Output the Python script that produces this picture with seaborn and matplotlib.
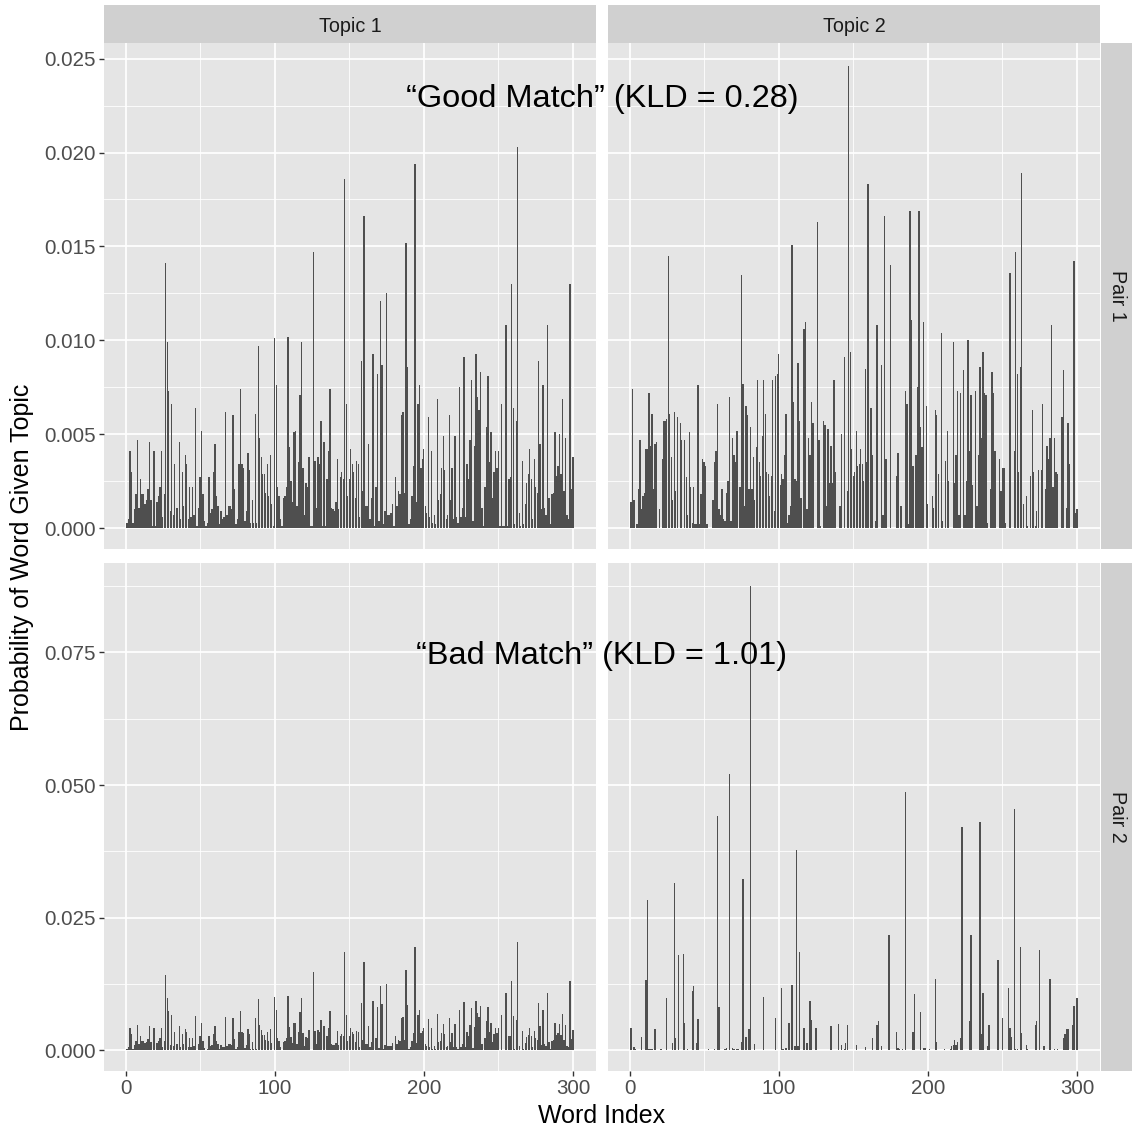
import numpy as np
import pandas as pd
import matplotlib
matplotlib.use("Agg")
import matplotlib.pyplot as plt
import seaborn as sns
from matplotlib.patches import Rectangle
from matplotlib.ticker import FixedLocator

plt.rcParams['font.family'] = ['Liberation Sans', 'DejaVu Sans']

# ---------------- data (probabilities in units of 1e-4) ----------------
SCALE = 1e-4
word_index = list(range(1, 301))

topic1 = [
    3, 5, 41, 30, 3, 10, 18, 47, 11, 26,
    18, 18, 13, 15, 21, 46, 15, 1, 41, 1,
    14, 17, 22, 41, 6, 18, 141, 99, 73, 9,
    66, 7, 34, 11, 11, 46, 5, 30, 12, 39,
    34, 5, 22, 6, 22, 7, 64, 1, 11, 27,
    52, 18, 4, 1, 3, 27, 8, 10, 30, 45,
    17, 12, 2, 9, 5, 6, 62, 7, 12, 12,
    10, 60, 21, 2, 5, 34, 74, 34, 32, 4,
    9, 40, 31, 3, 15, 3, 61, 3, 97, 48,
    38, 29, 29, 19, 34, 17, 39, 13, 1, 101,
    76, 22, 17, 5, 1, 16, 17, 22, 102, 43,
    25, 14, 51, 52, 12, 35, 71, 99, 32, 7,
    24, 22, 38, 1, 1, 147, 36, 11, 38, 34,
    57, 1, 46, 1, 26, 41, 74, 11, 10, 9,
    14, 37, 10, 27, 30, 26, 186, 66, 17, 26,
    42, 34, 30, 16, 36, 34, 6, 89, 20, 166,
    12, 12, 45, 5, 16, 93, 1, 22, 82, 4,
    121, 87, 2, 9, 125, 7, 7, 8, 13, 1,
    27, 12, 20, 18, 60, 62, 19, 152, 86, 2,
    5, 17, 33, 194, 14, 66, 76, 32, 37, 42,
    12, 8, 59, 6, 41, 3, 7, 2, 69, 15,
    18, 32, 49, 31, 5, 7, 60, 15, 32, 5,
    49, 6, 3, 75, 6, 11, 91, 6, 34, 26,
    47, 79, 4, 44, 93, 70, 63, 83, 11, 1,
    22, 54, 81, 35, 51, 16, 30, 41, 32, 41,
    1, 66, 1, 1, 108, 1, 26, 27, 130, 64,
    2, 57, 203, 8, 1, 36, 2, 13, 24, 29,
    42, 26, 5, 37, 22, 19, 89, 45, 10, 76,
    11, 7, 108, 16, 2, 18, 19, 51, 28, 33,
    50, 29, 69, 20, 48, 7, 5, 130, 21, 38]

pair1_topic2 = [
    14, 74, 15, 0, 2, 21, 47, 10, 17, 19,
    42, 42, 72, 44, 61, 21, 45, 46, 0, 10,
    0, 37, 57, 57, 58, 145, 61, 38, 15, 62,
    20, 59, 0, 56, 47, 0, 47, 27, 7, 51,
    22, 3, 22, 2, 2, 76, 2, 18, 37, 35,
    33, 2, 0, 0, 0, 15, 35, 41, 66, 10,
    7, 21, 5, 4, 19, 25, 70, 4, 48, 39,
    35, 52, 0, 22, 135, 77, 12, 65, 60, 21,
    54, 21, 38, 15, 43, 79, 35, 28, 49, 79,
    61, 30, 29, 17, 28, 79, 9, 81, 82, 93,
    23, 29, 26, 39, 61, 3, 7, 12, 151, 67,
    26, 25, 88, 57, 16, 0, 106, 110, 10, 48,
    39, 67, 56, 0, 0, 163, 47, 1, 0, 57,
    55, 12, 53, 24, 44, 24, 79, 30, 0, 0,
    12, 50, 0, 91, 0, 20, 246, 94, 42, 28,
    30, 52, 33, 34, 42, 34, 25, 85, 35, 183,
    0, 64, 39, 0, 4, 108, 0, 0, 87, 7,
    166, 37, 0, 0, 140, 0, 0, 0, 28, 40,
    0, 12, 0, 0, 73, 66, 2, 169, 111, 33,
    0, 39, 75, 169, 54, 43, 110, 0, 65, 13,
    0, 0, 17, 11, 63, 60, 29, 0, 104, 4,
    0, 36, 52, 25, 0, 0, 99, 24, 39, 73,
    7, 72, 0, 84, 7, 25, 100, 41, 71, 23,
    0, 73, 12, 39, 86, 48, 94, 72, 71, 3,
    0, 21, 83, 72, 41, 0, 0, 37, 20, 32,
    32, 3, 0, 0, 136, 0, 0, 41, 147, 82,
    30, 86, 189, 13, 0, 17, 1, 0, 28, 63,
    30, 1, 9, 31, 0, 31, 66, 0, 21, 44,
    37, 48, 108, 22, 48, 30, 29, 0, 0, 59,
    84, 0, 11, 56, 34, 0, 0, 142, 8, 10]

# Pair 2, Topic 2: non-zero words only (all other words have probability 0)
pair2_topic2_words = [
    1, 3, 4, 8, 11, 12, 13, 14, 15, 17, 21, 25, 29, 30, 31, 33, 36, 37, 39, 42,
    43, 45, 46, 53, 57, 59, 60, 64, 65, 67, 69, 70, 72, 73, 75, 76, 78, 80, 81, 84,
    90, 98, 102, 103, 105, 107, 109, 111, 112, 113, 114, 117, 119, 121, 122, 123, 125, 128, 135, 140,
    142, 144, 145, 146, 152, 155, 157, 158, 160, 163, 166, 167, 169, 174, 179, 180, 181, 183, 185, 190,
    191, 195, 197, 198, 201, 205, 206, 211, 215, 216, 217, 218, 219, 220, 222, 223, 226, 228, 229, 235,
    236, 237, 240, 241, 243, 244, 247, 250, 254, 255, 256, 258, 259, 260, 262, 263, 266, 267, 272, 273,
    275, 278, 282, 285, 287, 291, 292, 293, 294, 297, 298, 300]
pair2_topic2_vals = [
    42, 6, 3, 25, 132, 283, 3, 3, 3, 39, 3, 99, 14, 315, 23, 180, 182, 52, 3, 111,
    120, 13, 58, 2, 2, 442, 82, 2, 4, 520, 4, 3, 3, 3, 15, 323, 25, 39, 875, 12,
    100, 61, 117, 3, 4, 52, 122, 8, 378, 8, 186, 41, 14, 93, 57, 1, 41, 1, 46, 49,
    9, 3, 14, 47, 9, 1, 1, 6, 1, 23, 47, 55, 8, 218, 34, 4, 3, 3, 487, 34,
    106, 72, 4, 4, 2, 135, 15, 3, 3, 8, 9, 19, 9, 15, 22, 421, 1, 55, 218, 430,
    30, 108, 8, 47, 1, 1, 170, 61, 117, 41, 25, 454, 2, 3, 194, 32, 9, 3, 47, 55,
    189, 8, 135, 2, 2, 23, 30, 39, 40, 47, 84, 98]

topics = ["Topic 1", "Topic 2"]
pairs = ["Pair 1", "Pair 2"]
annotations = ["\u201cGood Match\u201d (KLD = 0.28)", "\u201cBad Match\u201d (KLD = 1.01)"]
x_breaks = [0, 100, 200, 300]
y_breaks = {"Pair 1": [0.000, 0.005, 0.010, 0.015, 0.020, 0.025],
            "Pair 2": [0.000, 0.025, 0.050, 0.075]}

# ---------------- build long table ----------------
p2t2_full = dict(zip(pair2_topic2_words, pair2_topic2_vals))
rows = []
for w, v in zip(word_index, topic1):
    rows.append(("Pair 1", "Topic 1", w, v * SCALE))
    rows.append(("Pair 2", "Topic 1", w, v * SCALE))
for w, v in zip(word_index, pair1_topic2):
    rows.append(("Pair 1", "Topic 2", w, v * SCALE))
for w in word_index:
    rows.append(("Pair 2", "Topic 2", w, p2t2_full.get(w, 0) * SCALE))
df = pd.DataFrame(rows, columns=["pair", "topic", "word", "prob"])

# ---------------- layout ----------------
W, H = 1132, 1131
fig = plt.figure(figsize=(W / 100, H / 100), dpi=100)
fig.patch.set_facecolor("white")

col_x = {"Topic 1": (104, 596), "Topic 2": (608, 1100)}
row_y = {"Pair 1": (43, 549), "Pair 2": (563, 1071)}

PANEL_BG = "#E5E5E5"
STRIP_BG = "#D0D0D0"
BAR = "#4F4F4F"

xmin_d, xmax_d = 0.55, 300.45
xr = xmax_d - xmin_d
xlim = (xmin_d - 0.05 * xr, xmax_d + 0.05 * xr)

for pair in pairs:
    sub_row = df[df.pair == pair]
    m = sub_row.prob.max()
    ylim = (-0.045 * m, 1.05 * m)
    yb = y_breaks[pair]
    yminor = [(a + b) / 2 for a, b in zip(yb[:-1], yb[1:])]
    if yb[-1] + (yb[1] - yb[0]) / 2 < ylim[1]:
        yminor.append(yb[-1] + (yb[1] - yb[0]) / 2)
    y0, y1 = row_y[pair]
    for topic in topics:
        x0, x1 = col_x[topic]
        ax = fig.add_axes([x0 / W, 1 - y1 / H, (x1 - x0) / W, (y1 - y0) / H])
        ax.set_facecolor(PANEL_BG)
        sub = sub_row[sub_row.topic == topic]
        sns.barplot(data=sub, x="word", y="prob", native_scale=True, width=0.9,
                    color=BAR, saturation=1, errorbar=None, linewidth=0,
                    edgecolor="none", ax=ax)
        ax.set_xlim(*xlim)
        ax.set_ylim(*ylim)
        ax.xaxis.set_major_locator(FixedLocator(x_breaks))
        ax.xaxis.set_minor_locator(FixedLocator([50, 150, 250]))
        ax.yaxis.set_major_locator(FixedLocator(yb))
        ax.yaxis.set_minor_locator(FixedLocator(yminor))
        ax.grid(which="major", color="white", linewidth=1.25)
        ax.grid(which="minor", color="white", linewidth=0.6)
        ax.set_axisbelow(True)
        for s in ax.spines.values():
            s.set_visible(False)
        ax.set_xlabel("")
        ax.set_ylabel("")
        ax.tick_params(which="minor", length=0)
        ax.tick_params(which="major", direction="out", length=3.6, width=1.0,
                       color="#333333", labelsize=14.8, labelcolor="#4D4D4D", pad=2.5)
        if topic == "Topic 1":
            ax.set_yticks(yb)
            ax.set_yticklabels([f"{v:.3f}" for v in yb])
        else:
            ax.tick_params(axis="y", left=False, labelleft=False)
        if pair == "Pair 2":
            ax.set_xticks(x_breaks)
            ax.set_xticklabels([str(v) for v in x_breaks])
        else:
            ax.tick_params(axis="x", bottom=False, labelbottom=False)

# strips
for topic in topics:
    x0, x1 = col_x[topic]
    fig.patches.append(Rectangle((x0 / W, 1 - 43 / H), (x1 - x0) / W, 38 / H,
                                 transform=fig.transFigure, facecolor=STRIP_BG,
                                 edgecolor="none", zorder=1))
    fig.text((x0 + x1) / 2 / W, 1 - 25 / H, topic, ha="center", va="center_baseline",
             fontsize=14.2, color="#1A1A1A")
for pair in pairs:
    y0, y1 = row_y[pair]
    fig.patches.append(Rectangle((1101 / W, 1 - y1 / H), 31 / W, (y1 - y0) / H,
                                 transform=fig.transFigure, facecolor=STRIP_BG,
                                 edgecolor="none", zorder=1))
    fig.text(1117 / W, 1 - (y0 + y1) / 2 / H, pair, ha="center", va="center",
             rotation=-90, fontsize=14.2, color="#1A1A1A")

# axis titles
fig.text(22 / W, 1 - 557 / H, "Probability of Word Given Topic", rotation=90,
         ha="center", va="center", fontsize=18, color="black")
fig.text(602 / W, 1 - 1116 / H, "Word Index", ha="center", va="center",
         fontsize=18, color="black")

# annotations
fig.text(602 / W, 1 - 99 / H, annotations[0], ha="center", va="center",
         fontsize=23.4, color="black", zorder=5)
fig.text(602 / W, 1 - 656 / H, annotations[1], ha="center", va="center",
         fontsize=23.4, color="black", zorder=5)

fig.savefig("out.png", dpi=100)
